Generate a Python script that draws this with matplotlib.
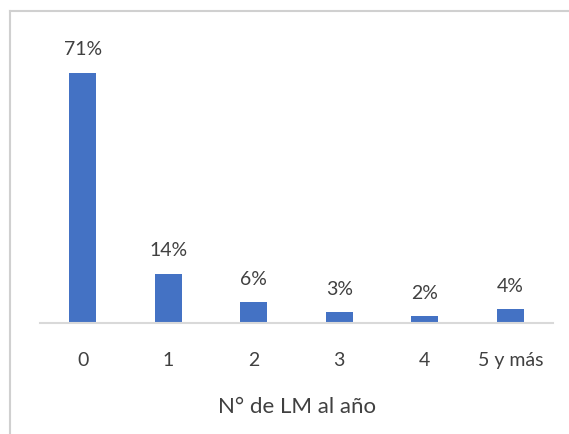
import matplotlib.pyplot as plt
from matplotlib.lines import Line2D

categories = ["0", "1", "2", "3", "4", "5 y más"]
values = [71, 14, 6, 3, 2, 4]
labels = ["71%", "14%", "6%", "3%", "2%", "4%"]

W, H = 569, 435
fig = plt.figure(figsize=(W / 100, H / 100), dpi=100)
plt.rcParams['font.family'] = ['Lato', 'DejaVu Sans']

# plot area in pixel terms: x 40..553, baseline at y=324
ax = fig.add_axes([40 / W, (H - 324) / H, 513 / W, 282 / H])
x = range(len(categories))
bars = ax.bar(x, values, width=0.31, color='#4472C4', zorder=2)
ax.set_xlim(-0.5, 5.5)
ax.set_ylim(0, 80)

for b, lab in zip(bars, labels):
    ax.annotate(lab, (b.get_x() + b.get_width() / 2, b.get_height()),
                xytext=(0, 11), textcoords='offset points',
                ha='center', va='bottom', fontsize=14, color='#404040')

ax.set_xticks(list(x))
ax.set_xticklabels(categories, fontsize=14, color='#404040')
ax.tick_params(axis='x', length=0, pad=20)
ax.set_yticks([])
for s in ['top', 'right', 'left']:
    ax.spines[s].set_visible(False)
ax.spines['bottom'].set_color('#D9D9D9')
ax.spines['bottom'].set_linewidth(1.5)

ax.set_xlabel("N° de LM al año", fontsize=16, color='#404040', labelpad=20)

# outer chart frame (left and top edges only)
fig.add_artist(Line2D([9.5 / W, 9.5 / W], [0, 1 - 11.5 / H], transform=fig.transFigure,
                      color='#D0D0D0', lw=1.5))
fig.add_artist(Line2D([9.5 / W, 1], [1 - 11.5 / H, 1 - 11.5 / H], transform=fig.transFigure,
                      color='#D0D0D0', lw=1.5))

fig.savefig('out.png', dpi=100)
